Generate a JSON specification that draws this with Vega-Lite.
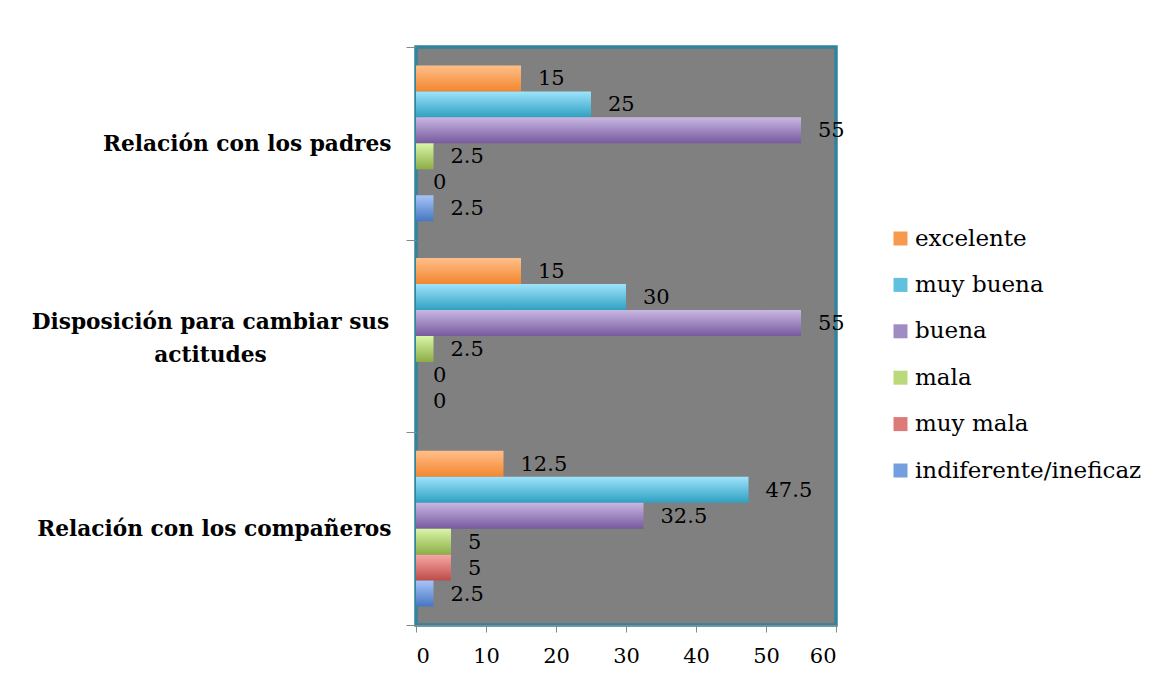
{
  "$schema": "https://vega.github.io/schema/vega-lite/v6.json",
  "width": 420,
  "height": 578,
  "autosize": {"type": "none"},
  "padding": {"left": 416, "top": 47, "right": 321, "bottom": 61},
  "background": "white",
  "config": {
    "view": {"fill": "#808080", "stroke": "#31849B", "strokeWidth": 3.5},
    "font": "DejaVu Serif"
  },
  "data": {
    "values": [
      {"cat": "Relación con los padres", "serie": "excelente", "value": 15},
      {"cat": "Relación con los padres", "serie": "muy buena", "value": 25},
      {"cat": "Relación con los padres", "serie": "buena", "value": 55},
      {"cat": "Relación con los padres", "serie": "mala", "value": 2.5},
      {"cat": "Relación con los padres", "serie": "muy mala", "value": 0},
      {"cat": "Relación con los padres", "serie": "indiferente/ineficaz", "value": 2.5},
      {"cat": "Disposición para cambiar sus actitudes", "serie": "excelente", "value": 15},
      {"cat": "Disposición para cambiar sus actitudes", "serie": "muy buena", "value": 30},
      {"cat": "Disposición para cambiar sus actitudes", "serie": "buena", "value": 55},
      {"cat": "Disposición para cambiar sus actitudes", "serie": "mala", "value": 2.5},
      {"cat": "Disposición para cambiar sus actitudes", "serie": "muy mala", "value": 0},
      {"cat": "Disposición para cambiar sus actitudes", "serie": "indiferente/ineficaz", "value": 0},
      {"cat": "Relación con los compañeros", "serie": "excelente", "value": 12.5},
      {"cat": "Relación con los compañeros", "serie": "muy buena", "value": 47.5},
      {"cat": "Relación con los compañeros", "serie": "buena", "value": 32.5},
      {"cat": "Relación con los compañeros", "serie": "mala", "value": 5},
      {"cat": "Relación con los compañeros", "serie": "muy mala", "value": 5},
      {"cat": "Relación con los compañeros", "serie": "indiferente/ineficaz", "value": 2.5}
    ]
  },
  "encoding": {
    "y": {
      "field": "cat",
      "type": "nominal",
      "sort": ["Relación con los padres", "Disposición para cambiar sus actitudes", "Relación con los compañeros"],
      "scale": {"paddingInner": 0, "paddingOuter": 0},
      "axis": {
        "title": null,
        "tickBand": "extent",
        "tickSize": 10,
        "tickColor": "#888888",
        "domain": false,
        "labelPadding": {"condition": {"test": "datum.value == 'Disposición para cambiar sus actitudes'", "value": 196}, "value": 15},
        "labelOffset": {"condition": {"test": "datum.value == 'Disposición para cambiar sus actitudes'", "value": -15}, "value": 0},
        "labelFont": "DejaVu Serif",
        "labelFontWeight": "bold",
        "labelFontSize": 21.7,
        "labelColor": "black",
        "labelLimit": 500,
        "labelLineHeight": 33,
        "labelAlign": {"condition": {"test": "datum.value == 'Disposición para cambiar sus actitudes'", "value": "center"}, "value": "right"},
        "labelExpr": "datum.value == 'Disposición para cambiar sus actitudes' ? ['Disposición para cambiar sus', 'actitudes'] : datum.value"
      }
    },
    "yOffset": {
      "field": "serie",
      "type": "nominal",
      "sort": ["excelente", "muy buena", "buena", "mala", "muy mala", "indiferente/ineficaz"],
      "scale": {"paddingInner": 0, "paddingOuter": 0.71}
    },
    "x": {
      "field": "value",
      "type": "quantitative",
      "scale": {"domain": [0, 60], "nice": false},
      "axis": {
        "title": null,
        "values": [0, 10, 20, 30, 40, 50, 60],
        "grid": false,
        "tickSize": 7,
        "tickColor": "#888888",
        "domainColor": "#888888",
        "labelFont": "DejaVu Serif",
        "labelFontSize": 21,
        "labelColor": "black",
        "labelPadding": 13
      }
    }
  },
  "layer": [
    {
      "mark": {"type": "bar", "clip": false},
      "encoding": {
        "color": {
          "field": "serie",
          "type": "nominal",
          "sort": ["excelente", "muy buena", "buena", "mala", "muy mala", "indiferente/ineficaz"],
          "scale": {
            "domain": ["excelente", "muy buena", "buena", "mala", "muy mala", "indiferente/ineficaz"],
            "range": ["#F79A4E", "#62C0DF", "#A08BC4", "#B9D97A", "#DC7A78", "#739EDF"]
          },
          "legend": {
            "title": null,
            "orient": "none",
            "legendX": 473,
            "legendY": 180,
            "symbolType": "square",
            "symbolSize": 196,
            "symbolStrokeWidth": 0,
            "labelFont": "DejaVu Serif",
            "labelFontSize": 23,
            "labelColor": "black",
            "labelOffset": 3,
            "rowPadding": 22.4,
            "labelLimit": 400
          },
          "condition": [
            {"test": "datum.serie == 'excelente'", "value": {"gradient": "linear", "x1": 0, "y1": 0, "x2": 0, "y2": 1, "stops": [{"offset": 0, "color": "#FFBF8A"}, {"offset": 1, "color": "#F3862E"}]}},
            {"test": "datum.serie == 'muy buena'", "value": {"gradient": "linear", "x1": 0, "y1": 0, "x2": 0, "y2": 1, "stops": [{"offset": 0, "color": "#9EE4FB"}, {"offset": 1, "color": "#2FA0C2"}]}},
            {"test": "datum.serie == 'buena'", "value": {"gradient": "linear", "x1": 0, "y1": 0, "x2": 0, "y2": 1, "stops": [{"offset": 0, "color": "#C9B7E3"}, {"offset": 1, "color": "#77599E"}]}},
            {"test": "datum.serie == 'mala'", "value": {"gradient": "linear", "x1": 0, "y1": 0, "x2": 0, "y2": 1, "stops": [{"offset": 0, "color": "#DAF5A6"}, {"offset": 1, "color": "#8CAE47"}]}},
            {"test": "datum.serie == 'muy mala'", "value": {"gradient": "linear", "x1": 0, "y1": 0, "x2": 0, "y2": 1, "stops": [{"offset": 0, "color": "#F7A8A6"}, {"offset": 1, "color": "#BE4B48"}]}},
            {"test": "datum.serie == 'indiferente/ineficaz'", "value": {"gradient": "linear", "x1": 0, "y1": 0, "x2": 0, "y2": 1, "stops": [{"offset": 0, "color": "#A8C4F7"}, {"offset": 1, "color": "#4677C2"}]}}
          ]
        }
      }
    },
    {
      "mark": {"type": "text", "align": "left", "baseline": "middle", "dx": 17, "dy": 1, "font": "DejaVu Serif", "fontSize": 21, "color": "black", "clip": false},
      "encoding": {
        "text": {"field": "value", "type": "quantitative"}
      }
    }
  ]
}
